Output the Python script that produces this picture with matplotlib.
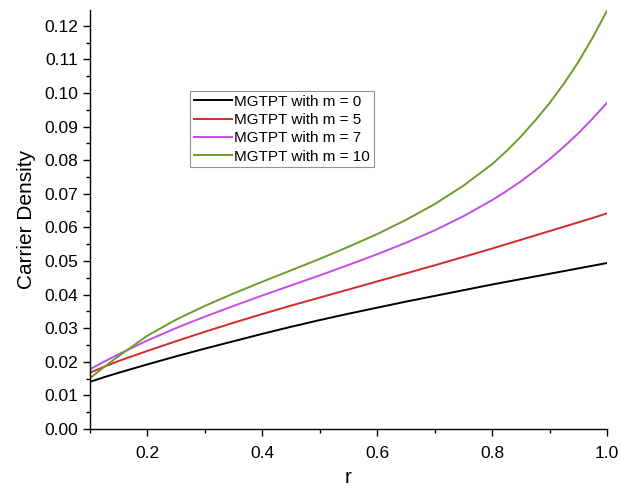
import numpy as np
import matplotlib
matplotlib.use("Agg")
import matplotlib.pyplot as plt
from matplotlib.ticker import MultipleLocator

plt.rcParams['font.family'] = ['Liberation Sans', 'DejaVu Sans']

# ---------- data ----------

r = [0.10, 0.125, 0.15, 0.20, 0.25, 0.30, 0.35, 0.40, 0.45, 0.50, 0.55, 0.60,
     0.65, 0.70, 0.75, 0.80, 0.825, 0.85, 0.875, 0.90, 0.925, 0.95, 0.975, 1.00]

m0 = [0.0140, 0.0154, 0.0167, 0.0192, 0.0216, 0.0239, 0.0261, 0.0283, 0.0304, 0.0324,
      0.0343, 0.0361, 0.0379, 0.0396, 0.0413, 0.0430, 0.0438, 0.0446, 0.0454, 0.0462,
      0.0470, 0.0478, 0.0486, 0.0494]
m5 = [0.0167, 0.0185, 0.0202, 0.0232, 0.0261, 0.0289, 0.0316, 0.0342, 0.0367, 0.0391,
      0.0415, 0.0439, 0.0463, 0.0487, 0.0512, 0.0537, 0.0550, 0.0563, 0.0576, 0.0589,
      0.0602, 0.0615, 0.0628, 0.0642]
m7 = [0.0177, 0.0200, 0.0222, 0.0263, 0.0300, 0.0334, 0.0366, 0.0397, 0.0427, 0.0457,
      0.0488, 0.0520, 0.0554, 0.0591, 0.0633, 0.0681, 0.0708, 0.0737, 0.0769, 0.0803,
      0.0840, 0.0880, 0.0924, 0.0971]
m10 = [0.0150, 0.0184, 0.0216, 0.0277, 0.0325, 0.0366, 0.0403, 0.0438, 0.0472, 0.0506,
       0.0542, 0.0580, 0.0622, 0.0669, 0.0724, 0.0788, 0.0827, 0.0870, 0.0918, 0.0970,
       0.1028, 0.1092, 0.1165, 0.1245]

labels = ["MGTPT with m = 0", "MGTPT with m = 5", "MGTPT with m = 7", "MGTPT with m = 10"]
colors = ["#000000", "#d42a2a", "#c64ce6", "#6c9c2c"]

# ---------- plot ----------

fig = plt.figure(figsize=(6.22, 4.90), dpi=100)
ax = fig.add_axes([0.1439, 0.1245, 0.832, 0.855])

for ys, lab, c in zip([m0, m5, m7, m10], labels, colors):
    ax.plot(r, ys, color=c, lw=1.4, label=lab)

ax.set_xlim(0.1, 1.0)
ax.set_ylim(0, 0.1247)

ax.xaxis.set_major_locator(MultipleLocator(0.2))
ax.xaxis.set_minor_locator(MultipleLocator(0.1))
ax.yaxis.set_major_locator(MultipleLocator(0.01))
ax.yaxis.set_minor_locator(MultipleLocator(0.005))
ax.yaxis.set_major_formatter(plt.FormatStrFormatter('%.2f'))
ax.xaxis.set_major_formatter(plt.FormatStrFormatter('%.1f'))

ax.spines['top'].set_visible(False)
ax.spines['right'].set_visible(False)
for s in ['left', 'bottom']:
    ax.spines[s].set_linewidth(1.0)

ax.tick_params(which='major', direction='out', length=5, width=1.0, labelsize=12.5)
ax.tick_params(which='minor', direction='out', length=2.8, width=1.0)
ax.tick_params(axis='x', pad=7)
ax.tick_params(axis='y', pad=3)

ax.set_xlabel("r", fontsize=15, labelpad=5)
ax.set_ylabel("Carrier Density", fontsize=15, labelpad=6)

leg = ax.legend(loc='upper left', bbox_to_anchor=(0.194, 0.807), borderaxespad=0,
                fontsize=11, frameon=True, fancybox=False, edgecolor='#777777',
                handlelength=2.5, handletextpad=0.15, labelspacing=0.28, borderpad=0.25)
leg.get_frame().set_linewidth(0.8)

fig.savefig("out.png", dpi=100)
